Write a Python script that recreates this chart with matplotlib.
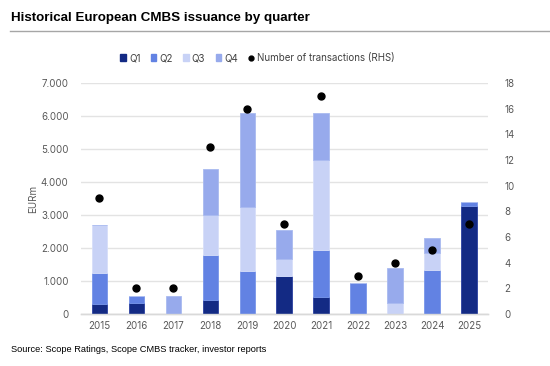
import matplotlib
matplotlib.use("Agg")
import matplotlib.pyplot as plt
from matplotlib.lines import Line2D
import numpy as np

years = ["2015", "2016", "2017", "2018", "2019", "2020", "2021", "2022", "2023", "2024", "2025"]
q1 = [300, 320, 0, 410, 0, 1150, 520, 0, 0, 0, 3270]
q2 = [930, 235, 0, 1370, 1310, 0, 1430, 937, 0, 1340, 130]
q3 = [1480, 0, 0, 1230, 1920, 530, 2720, 0, 330, 510, 0]
q4 = [0, 0, 534, 1370, 2870, 870, 1430, 0, 1060, 440, 0]
transactions = [9, 2, 2, 13, 16, 7, 17, 3, 4, 5, 7]

series_names = ["Q1", "Q2", "Q3", "Q4"]
colors = ["#132a84", "#6282e3", "#c8d2f6", "#97aaec"]
edge_colors = ["#2a40a0", "#7896ea", "#d6def9", "#a9baf0"]

fig = plt.figure(figsize=(5.5, 3.66), dpi=100)
ax = fig.add_axes([81/550, 1-314/366, (487.5-81)/550, (314-83)/366])
ax2 = ax.twinx()

x = np.arange(len(years))
bottom = np.zeros(len(years))
for vals, c, ec, name in zip([q1, q2, q3, q4], colors, edge_colors, series_names):
    v = np.array(vals, dtype=float)
    ax.bar(x, v, bottom=bottom, width=0.42, color=c, edgecolor=ec, linewidth=0.6, label=name, zorder=3)
    bottom += v

ax2.plot(x, transactions, 'o', color="black", markersize=5, zorder=5)

ax.set_xlim(-0.5, len(years)-0.5)
ax.set_ylim(0, 7000)
ax2.set_ylim(0, 18)
ax.set_yticks(range(0, 7001, 1000))
ax.set_yticklabels(["0"] + [f"{v//1000}.000" for v in range(1000, 7001, 1000)])
ax2.set_yticks(range(0, 19, 2))
ax.set_xticks(x)
ax.set_xticklabels(years)

for lab in ax.get_xticklabels() + ax.get_yticklabels() + ax2.get_yticklabels():
    lab.set_fontfamily(["Inter", "DejaVu Sans"])
    lab.set_fontsize(7)
    lab.set_color("#595959")

ax.grid(axis="y", color="#e3e3e3", linewidth=1, zorder=0)
ax.set_axisbelow(True)
for a in (ax, ax2):
    for s in ["top", "left", "right"]:
        a.spines[s].set_visible(False)
    a.spines["bottom"].set_color("#d9d9d9")
    a.spines["bottom"].set_linewidth(1)
    a.tick_params(length=0)
ax.tick_params(axis="y", pad=9)
ax2.tick_params(axis="y", pad=12)
ax.tick_params(axis="x", pad=5)

ax.set_ylabel("EURm", fontsize=7, color="#595959", family=["Inter", "DejaVu Sans"], labelpad=2)

handles = [plt.Rectangle((0, 0), 1, 1, color=c) for c in colors]
handles.append(Line2D([], [], marker='o', color='black', linestyle='None', markersize=3.5))
labels = series_names + ["Number of transactions (RHS)"]
leg = fig.legend(handles, labels, loc="center", bbox_to_anchor=(0.468, 1-58/366), ncol=5,
                 frameon=False, handlelength=0.6, handleheight=0.6, handletextpad=0.3,
                 columnspacing=1.05, prop={"family": ["Inter", "DejaVu Sans"], "size": 7})
for t in leg.get_texts():
    t.set_color("#404040")

fig.text(11/550, 1-18/366, "Historical European CMBS issuance by quarter", fontsize=9.6,
         fontweight="bold", family=["Liberation Sans", "DejaVu Sans"], va="center", ha="left")
fig.add_artist(Line2D([10/550, 1.0], [1-31/366, 1-31/366], color="#a6a6a6", linewidth=1, transform=fig.transFigure))
fig.text(11/550, 1-350/366, "Source: Scope Ratings, Scope CMBS tracker, investor reports", fontsize=6.7,
         family=["Liberation Sans", "DejaVu Sans"], va="center", ha="left")

fig.savefig("out.png", dpi=100)
